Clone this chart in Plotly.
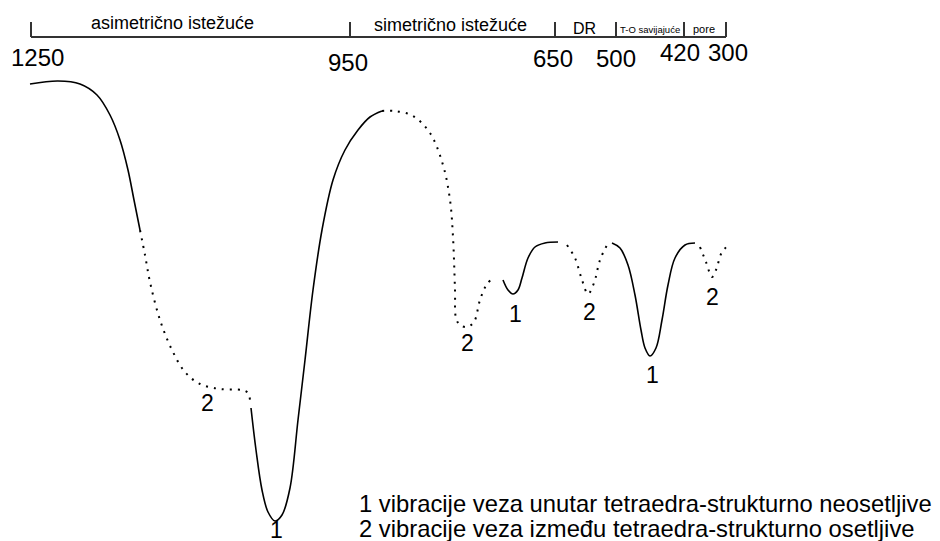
import plotly.graph_objects as go

# drawing units: x = 0..940 left to right, y = 0..541 top to bottom

# region bar at the top
bar_y = 37
bar_ticks_x = [31, 350, 555, 616, 684, 726]
region_names = ['asimetrično istežuće', 'simetrično istežuće', 'DR', 'T-O savijajuće', 'pore']
region_x = [172, 450, 584, 650, 704]
region_y = [23, 25, 28, 29, 29]

wavenumbers = ['1250', '950', '650', '500', '420', '300']
wavenumber_x = [37, 348, 553, 616, 680, 728]
wavenumber_y = [57, 62, 58, 58, 52, 52]

# spectrum pieces, solid = structure insensitive, dotted = structure sensitive
seg_a_x = [30, 58, 80, 97, 110, 120, 128, 134, 140]
seg_a_y = [84, 81, 84, 95, 115, 140, 170, 200, 230]
seg_b_x = [140, 145, 150, 160, 172, 185, 200, 220, 242, 248, 250]
seg_b_y = [230, 255, 282, 320, 350, 372, 384, 389, 390, 393, 400]
seg_c_x = [251, 256, 262, 268, 275, 282, 290, 298, 305, 313, 322, 333, 345, 358, 370, 382]
seg_c_y = [408, 450, 490, 512, 521, 515, 488, 420, 360, 290, 230, 180, 150, 130, 117, 111]
seg_d_x = [382, 395, 413, 430, 443, 450, 453, 455, 456, 460, 467, 474, 480, 487, 495]
seg_d_y = [111, 111, 116, 133, 165, 200, 237, 290, 318, 325, 327, 322, 300, 284, 277]
seg_e_x = [503, 508, 513, 518, 522, 528, 535, 545, 558]
seg_e_y = [280, 290, 294, 290, 278, 258, 247, 243, 242]
seg_f_x = [567, 575, 582, 588, 594, 600, 607]
seg_f_y = [245, 258, 280, 294, 283, 260, 245]
seg_g_x = [612, 620, 628, 635, 641, 645, 650, 656, 662, 668, 675, 685, 695]
seg_g_y = [243, 248, 265, 295, 330, 348, 356, 348, 320, 285, 258, 245, 243]
seg_h_x = [700, 706, 712, 716, 722, 730]
seg_h_y = [247, 262, 277, 270, 252, 244]

solid_segments = [(seg_a_x, seg_a_y), (seg_c_x, seg_c_y), (seg_e_x, seg_e_y), (seg_g_x, seg_g_y)]
dotted_segments = [(seg_b_x, seg_b_y), (seg_d_x, seg_d_y), (seg_f_x, seg_f_y), (seg_h_x, seg_h_y)]

band_labels = ['2', '1', '2', '1', '2', '1', '2']
band_label_x = [207, 276, 467, 515, 589, 652, 712]
band_label_y = [403, 530, 343, 314, 312, 375, 297]

legend_lines = ['1 vibracije veza unutar tetraedra-strukturno neosetljive',
                '2 vibracije veza između tetraedra-strukturno osetljive']
legend_x = 357
legend_y = [503, 528]

FONT = 'Liberation Sans, Arial, sans-serif'

traces = []

# top bar: base line plus the region ticks
bx = [bar_ticks_x[0], bar_ticks_x[-1], None]
by = [bar_y, bar_y, None]
for t in bar_ticks_x:
    bx += [t, t, None]
    by += [bar_y, bar_y - 15, None]
traces.append(go.Scatter(x=bx, y=by, mode='lines',
                         line=dict(color='#333333', width=2), hoverinfo='skip'))

for sx, sy in solid_segments:
    traces.append(go.Scatter(x=sx, y=sy, mode='lines',
                             line=dict(color='black', width=1.6, shape='spline', smoothing=1.0),
                             hoverinfo='skip'))
for sx, sy in dotted_segments:
    traces.append(go.Scatter(x=sx, y=sy, mode='lines',
                             line=dict(color='black', width=2, shape='spline', smoothing=1.0,
                                       dash='2px,6px'),
                             hoverinfo='skip'))

annotations = []
region_sizes = [18, 18, 16, 9.5, 11]
for name, x, y, s in zip(region_names, region_x, region_y, region_sizes):
    annotations.append(dict(x=x, y=y, text=name, showarrow=False,
                            font=dict(family=FONT, size=s, color='black')))
for lab, x, y in zip(wavenumbers, wavenumber_x, wavenumber_y):
    annotations.append(dict(x=x, y=y, text=lab, showarrow=False,
                            font=dict(family=FONT, size=24, color='black')))
for lab, x, y in zip(band_labels, band_label_x, band_label_y):
    annotations.append(dict(x=x, y=y, text=lab, showarrow=False,
                            font=dict(family=FONT, size=23, color='black')))
for line, y in zip(legend_lines, legend_y):
    annotations.append(dict(x=legend_x, y=y, text=line, showarrow=False, xanchor='left',
                            font=dict(family=FONT, size=23.8, color='black')))

layout = go.Layout(
    width=940,
    height=541,
    showlegend=False,
    paper_bgcolor='white',
    plot_bgcolor='white',
    margin=dict(l=0, r=0, t=0, b=0),
    xaxis=dict(range=[0, 940], visible=False, fixedrange=True),
    yaxis=dict(range=[541, 0], visible=False, fixedrange=True),
    annotations=annotations,
)

fig = go.Figure(data=traces, layout=layout)
fig.write_html('out.html', config={'displayModeBar': False},
               post_script="document.body.style.margin='0';document.body.style.overflow='hidden';")
